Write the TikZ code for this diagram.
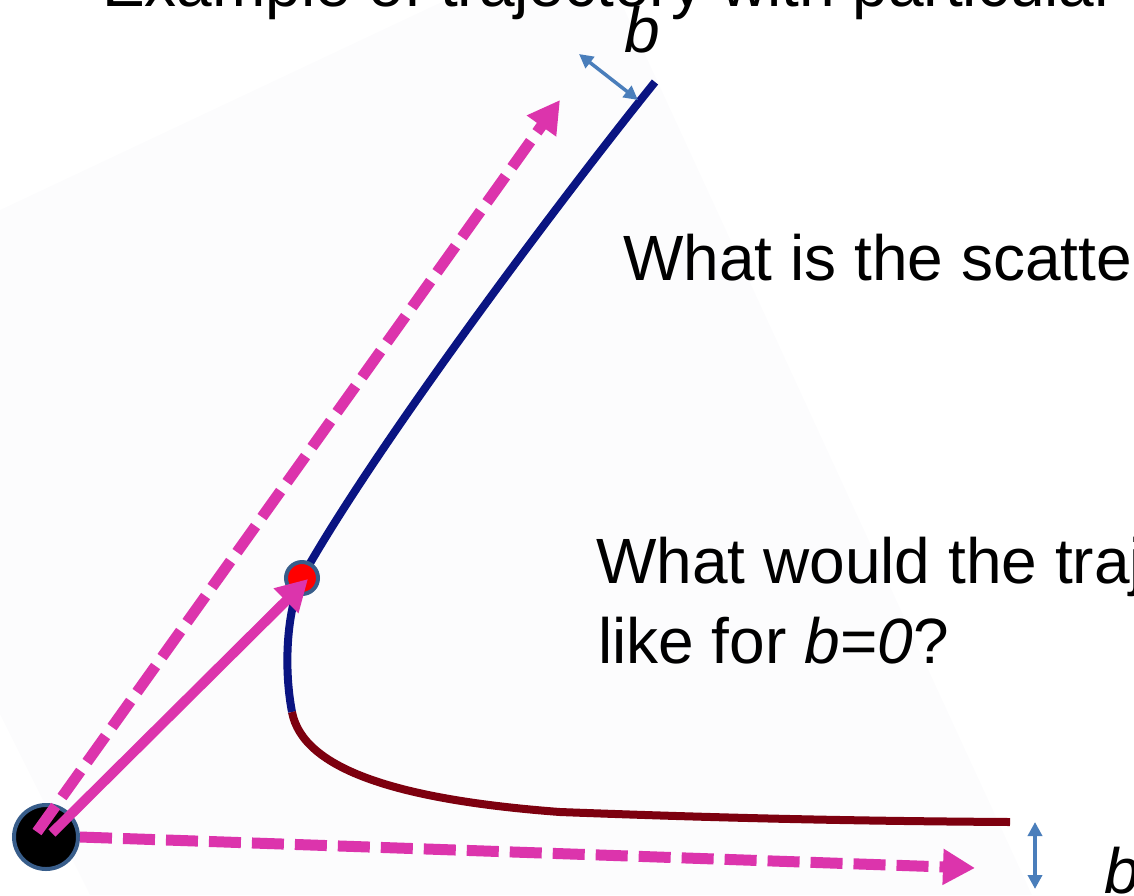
\documentclass[tikz,border=0pt]{standalone}
\usepackage{fontspec}
\setmainfont{Liberation Sans}
\usetikzlibrary{arrows.meta}
\definecolor{pinkc}{RGB}{220,52,172}
\definecolor{navyc}{RGB}{10,20,130}
\definecolor{darkredc}{RGB}{125,0,15}
\definecolor{dotborder}{RGB}{56,93,138}
\definecolor{bluearr}{RGB}{74,126,187}
\definecolor{bgc}{RGB}{252,252,253}
\begin{document}
\begin{tikzpicture}[x=1pt,y=-1pt,
  txt/.style={anchor=base west,inner sep=0pt,font=\fontsize{64}{77}\selectfont},
  traj/.style={line width=8pt},
  pinkdash/.style={draw=pinkc,line width=11pt,dash pattern=on 32pt off 11pt,
    -{Triangle[length=32pt,width=34pt]}},
  pinksolid/.style={draw=pinkc,line width=10pt,-{Triangle[length=31pt,width=33pt]}},
  barr/.style={draw=bluearr,line width=3.5pt,{Triangle[length=14pt,width=14pt]}-{Triangle[length=14pt,width=14pt]}},
  dotstyle/.style={circle,draw=dotborder,line width=4pt,inner sep=0pt}]
\useasboundingbox (0,0) rectangle (1134,895);
\clip (0,0) rectangle (1134,895);
% faint background sheet
\fill[bgc] (0,210) -- (446,0) -- (620,0) -- (1032,895) -- (90,895) -- (0,714) -- cycle;
% trajectory
\draw[traj,navyc] (655,82) .. controls (560,200) and (380,440) .. (305,572)
  .. controls (287,604) and (283,665) .. (292,712);
\draw[traj,darkredc] (292,712) .. controls (303,770) and (400,800) .. (560,812)
  .. controls (720,818) and (850,821) .. (1010,822);
% dots
\node[dotstyle,fill=black,minimum size=64pt] (bd) at (46,837) {};
\node[dotstyle,fill=red,minimum size=32pt] (rd) at (302,578) {};
% free ends
\coordinate (ut) at (560,100);
\coordinate (lt) at (975,868);
% pink arrows
\draw[pinkdash] ([shift={(-9,-5)}]bd.center) -- (ut);
\draw[pinkdash] (bd.east) -- (lt);
\draw[pinksolid] ([shift={(6,-4)}]bd.center) -- ([shift={(6,1)}]rd.center);
% b markers
\coordinate (b1s) at (579,54);
\coordinate (b1e) at (638,100);
\coordinate (b2s) at (1035,822);
\coordinate (b2e) at (1035,889);
\draw[barr] (b1s) -- (b1e);
\draw[barr] (b2s) -- (b2e);
% texts
\node[txt] (title) at (102,6) {Example of trajectory with particular};
\node[txt] (btop) at (624,52) {\textit{b}};
\node[txt] (bbot) at (1104,893) {\textit{b}};
\node[txt] (q1) at (623,280) {What is the scatte};
\node[txt] (q2) at (596,583) {What would the traj};
\node[txt] (q3) at (598,663) {like for \textit{b}=\textit{0}?};
\end{tikzpicture}
\end{document}
